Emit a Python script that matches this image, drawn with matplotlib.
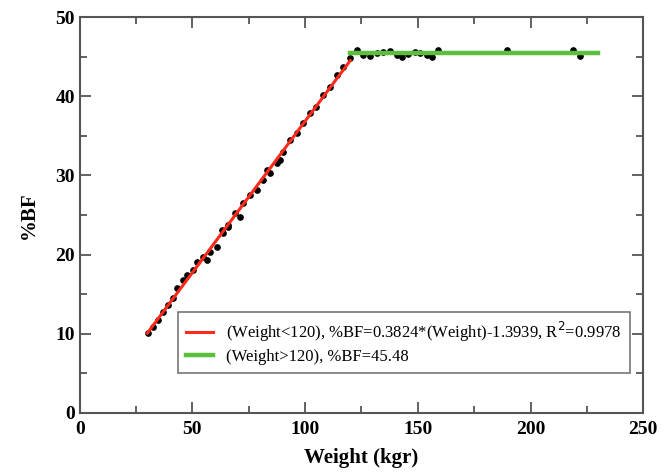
import matplotlib.pyplot as plt
from matplotlib.ticker import MultipleLocator

weight = [30.2, 32.4, 34.6, 36.9, 39.1, 41.3, 43.1, 45.7, 47.5, 50.2,
          52.0, 54.6, 56.4, 57.7, 60.8, 63.0, 63.5, 65.7, 66.0, 68.8,
          71.0, 72.4, 75.5, 78.6, 81.3, 83.0, 84.4, 87.5, 88.8, 90.0,
          93.2, 96.4, 99.0, 102.0, 105.0, 108.0, 111.0, 114.0, 117.0, 120.0,
          123.0, 125.7, 128.8, 131.9, 134.5, 137.6, 140.8, 143.0, 145.6, 148.8,
          151.0, 154.0, 156.3, 159.0, 189.6, 219.0, 222.0]
bf = [10.1, 10.9, 11.7, 12.8, 13.6, 14.5, 15.8, 16.8, 17.4, 18.1,
      19.1, 19.7, 19.3, 20.3, 21.0, 23.1, 22.7, 23.5, 23.7, 25.3,
      24.7, 26.5, 27.5, 28.2, 29.4, 30.7, 30.3, 31.6, 31.9, 33.0,
      34.5, 35.3, 36.6, 37.9, 38.6, 40.2, 41.2, 42.7, 43.7, 44.8,
      45.8, 45.2, 45.1, 45.5, 45.6, 45.7, 45.2, 45.0, 45.3, 45.6,
      45.5, 45.2, 45.0, 45.8, 45.8, 45.8, 45.1]

# fitted segments
slope = 0.3824
icept = -1.3939
fit1_x = [30, 120]
fit2_x = [120, 230]
plateau = 45.48

plt.rcParams['font.family'] = ['Liberation Serif', 'DejaVu Serif']

fig = plt.figure(figsize=(6.7, 4.73), dpi=100)
ax = fig.add_axes([0.119, 0.127, 0.841, 0.837])

ax.plot(weight, bf, 'o', color='black', markersize=3.8, zorder=2)
ax.plot(fit1_x, [slope * x + icept for x in fit1_x], color='#ff2a1a', lw=2.2,
        label='(Weight<120), %BF=0.3824*(Weight)-1.3939, R$^2$=0.9978', zorder=3)
ax.plot(fit2_x, [plateau, plateau], color='#5cbf3c', lw=3.2,
        label='(Weight>120), %BF=45.48', zorder=3)

ax.set_xlim(0, 250)
ax.set_ylim(0, 50)
ax.xaxis.set_major_locator(MultipleLocator(50))
ax.xaxis.set_minor_locator(MultipleLocator(25))
ax.yaxis.set_major_locator(MultipleLocator(10))
ax.yaxis.set_minor_locator(MultipleLocator(5))
ax.tick_params(which='both', direction='in', top=True, right=True,
               color='#555555', width=1.3)
ax.tick_params(which='major', length=8, labelsize=14)
ax.tick_params(axis='x', which='major', pad=6)
ax.tick_params(which='minor', length=5)
for lab in ax.get_xticklabels() + ax.get_yticklabels():
    lab.set_fontweight('bold')
for sp in ax.spines.values():
    sp.set_color('#555555')
    sp.set_linewidth(1.5)

ax.set_xlabel('Weight (kgr)', fontsize=15, fontweight='bold', labelpad=7)
ax.set_ylabel('%BF', fontsize=15, fontweight='bold', labelpad=12)

leg = ax.legend(loc='lower right', bbox_to_anchor=(0.977, 0.1), fontsize=12,
                frameon=True, fancybox=False, edgecolor='#555555',
                handlelength=1.6, borderpad=0.5, labelspacing=0.3,
                borderaxespad=0)
leg.get_frame().set_linewidth(1.2)

fig.savefig('out.png', dpi=100)
